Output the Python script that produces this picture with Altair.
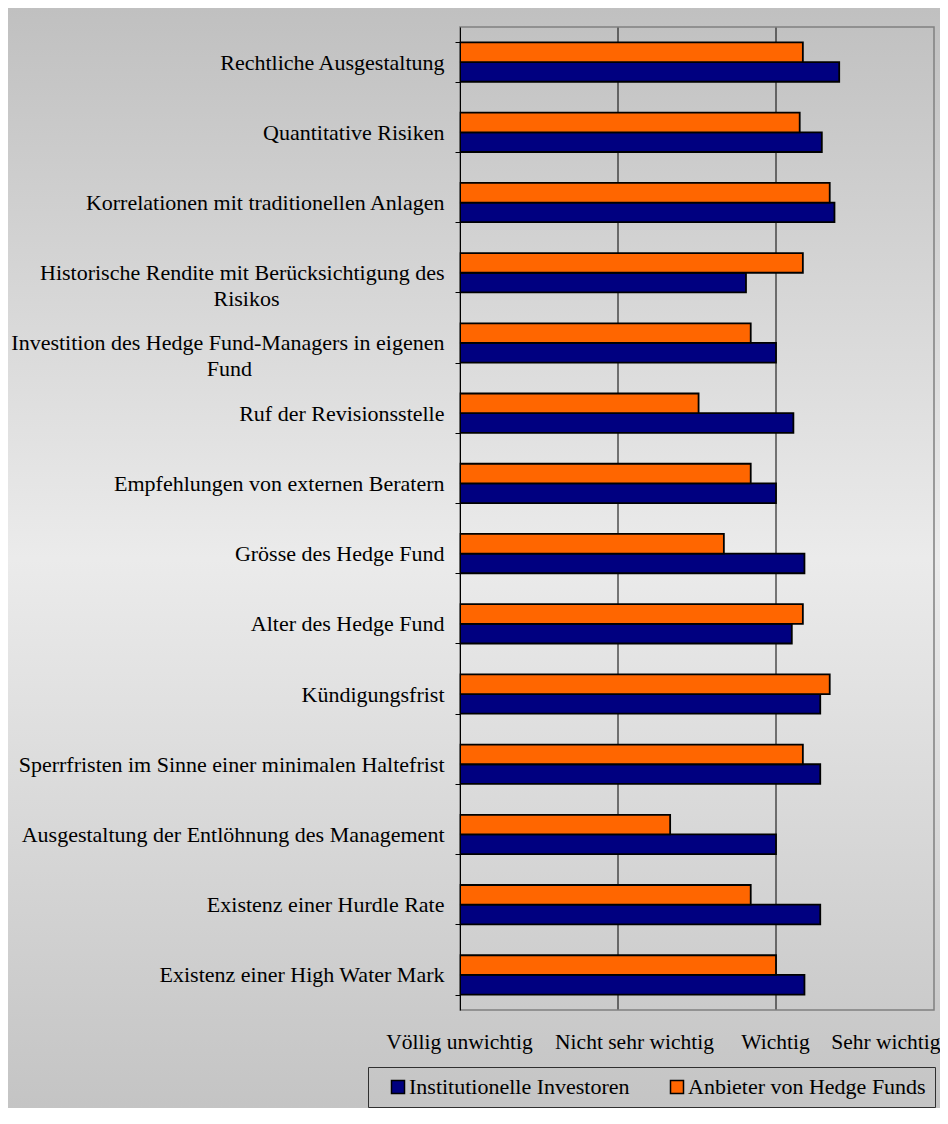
import json
import altair as alt
import pandas as pd

# ---------------- data ----------------
categories = [
    "Rechtliche Ausgestaltung",
    "Quantitative Risiken",
    "Korrelationen mit traditionellen Anlagen",
    "Historische Rendite mit Berücksichtigung des Risikos",
    "Investition des Hedge Fund-Managers in eigenen Fund",
    "Ruf der Revisionsstelle",
    "Empfehlungen von externen Beratern",
    "Grösse des Hedge Fund",
    "Alter des Hedge Fund",
    "Kündigungsfrist",
    "Sperrfristen im Sinne einer minimalen Haltefrist",
    "Ausgestaltung der Entlöhnung des Management",
    "Existenz einer Hurdle Rate",
    "Existenz einer High Water Mark",
]
institutionelle = [3.40, 3.29, 3.37, 2.81, 3.00, 3.11, 3.00, 3.18, 3.10, 3.28, 3.28, 3.00, 3.28, 3.18]
anbieter = [3.17, 3.15, 3.34, 3.17, 2.84, 2.51, 2.84, 2.67, 3.17, 3.34, 3.17, 2.33, 2.84, 3.00]

series_names = ["Institutionelle Investoren", "Anbieter von Hedge Funds"]
series_colors = ["#000080", "#FF6600"]

x_tick_values = [1, 2, 3, 4]
x_tick_labels = ["Völlig unwichtig", "Nicht sehr wichtig", "Wichtig", "Sehr wichtig"]
grid_values = [2, 3]

# wrapped labels (second line centred under the first)
NB = "\u00a0"
ZW = "\u200b"
wrapped = {
    "Historische Rendite mit Berücksichtigung des Risikos":
        ["Historische Rendite mit Berücksichtigung des", "Risikos" + NB * 30 + ZW],
    "Investition des Hedge Fund-Managers in eigenen Fund":
        ["Investition des Hedge Fund-Managers in eigenen", "Fund" + NB * 35 + ZW],
}

rows = []
for c, a, b in zip(categories, institutionelle, anbieter):
    rows.append({"cat": c, "series": series_names[0], "val": a})
    rows.append({"cat": c, "series": series_names[1], "val": b})
df = pd.DataFrame(rows)
grid_df = pd.DataFrame({"v": grid_values})

# ---------------- styling ----------------
FONT = "Liberation Serif"
W, H = 474, 983

y_label_expr = ""
for k, lines in wrapped.items():
    y_label_expr += f"datum.label == {json.dumps(k)} ? {json.dumps(lines)} : "
y_label_expr += "datum.label"

x_label_expr = ""
for v, t in zip(x_tick_values, x_tick_labels):
    x_label_expr += f"datum.value == {v} ? {json.dumps(t)} : "
x_label_expr += "''"

x_scale = alt.Scale(domain=[1, 4], nice=False, zero=False)

x_axis = alt.Axis(
    values=x_tick_values, labelExpr=x_label_expr, title=None, grid=False,
    ticks=False, tickSize=0, domain=False, labelPadding=21,
    labelFont=FONT, labelFontSize=21.5, labelColor="black", labelFlush=False,
    labelAlign={"condition": {"test": "datum.value == 4", "value": "right"}, "value": "center"},
    labelOffset={"condition": [{"test": "datum.value == 2", "value": 16},
                               {"test": "datum.value == 4", "value": 6}], "value": -1},
    labelBaseline="top", zindex=1,
)

y_axis = alt.Axis(
    title=None, grid=False, labelExpr=y_label_expr, labelFont=FONT, labelFontSize=22,
    labelColor="black", labelPadding=11, labelLimit=1000, labelLineHeight=26,
    tickSize=5, tickColor="black", tickWidth=1, domainColor="black", domainWidth=1,
    tickBand="extent", zindex=1,
)

bg = alt.Chart(alt.Data(values=[{}])).mark_rect(
    fill=alt.LinearGradient(
        gradient="linear", x1=0, x2=0, y1=0, y2=1,
        stops=[alt.GradientStop(offset=0, color="#c0c0c0"),
               alt.GradientStop(offset=0.5, color="#ebebeb"),
               alt.GradientStop(offset=1, color="#c4c4c4")],
    ),
).encode(x=alt.value(-452), x2=alt.value(480), y=alt.value(-19), y2=alt.value(1081))

grid = alt.Chart(grid_df).mark_rule(color="black", strokeWidth=1).encode(
    x=alt.X("v:Q", scale=x_scale, axis=x_axis)
)

bars = alt.Chart(df).mark_bar(stroke="black", strokeWidth=1.8).encode(
    y=alt.Y("cat:N", sort=categories, axis=y_axis,
            scale=alt.Scale(paddingInner=0.44, paddingOuter=0.22)),
    yOffset=alt.YOffset("series:N", sort=[series_names[1], series_names[0]]),
    x=alt.X("val:Q", scale=x_scale, axis=x_axis),
    x2=alt.datum(1),
    color=alt.Color(
        "series:N",
        scale=alt.Scale(domain=series_names, range=series_colors),
        legend=alt.Legend(
            title=None, orient="none", legendX=-92, legendY=1040, direction="horizontal",
            strokeColor="#303030", padding=9,
            symbolType="square", symbolSize=169, symbolStrokeColor="black",
            symbolStrokeWidth=1.5, symbolOffset=10, labelOffset=0, columnPadding=26,
            labelFont=FONT, labelFontSize=22, labelColor="black", labelLimit=1000,
        ),
    ),
)

border = alt.Chart(alt.Data(values=[{}])).mark_rect(
    filled=False, stroke="#808080", strokeWidth=1.5
).encode(x=alt.value(0), x2=alt.value(W), y=alt.value(0), y2=alt.value(H))

chart = alt.layer(bg, grid, bars, border).properties(
    width=W, height=H, padding=0
).configure_view(stroke=None)

chart.save("out.html", embed_options={"renderer": "svg", "actions": False})
